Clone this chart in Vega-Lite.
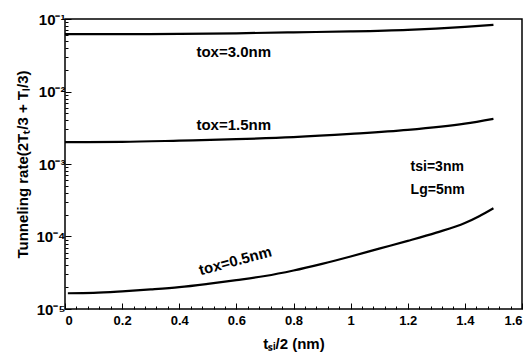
{
  "$schema": "https://vega.github.io/schema/vega-lite/v6.json",
  "width": 457,
  "height": 290,
  "autosize": {"type": "none"},
  "padding": {"left": 65, "top": 19, "right": 7, "bottom": 54},
  "background": "white",
  "config": {
    "view": {"stroke": "black", "strokeWidth": 1.5},
    "font": "Liberation Sans"
  },
  "datasets": {
    "curves": [
      {"tsi": 0, "rate": 0.062, "series": "tox=3.0nm"},
      {"tsi": 0.2, "rate": 0.062, "series": "tox=3.0nm"},
      {"tsi": 0.4, "rate": 0.0622, "series": "tox=3.0nm"},
      {"tsi": 0.6, "rate": 0.0635, "series": "tox=3.0nm"},
      {"tsi": 0.8, "rate": 0.0655, "series": "tox=3.0nm"},
      {"tsi": 1.0, "rate": 0.0675, "series": "tox=3.0nm"},
      {"tsi": 1.2, "rate": 0.071, "series": "tox=3.0nm"},
      {"tsi": 1.4, "rate": 0.078, "series": "tox=3.0nm"},
      {"tsi": 1.5, "rate": 0.083, "series": "tox=3.0nm"},
      {"tsi": 0, "rate": 0.002, "series": "tox=1.5nm"},
      {"tsi": 0.2, "rate": 0.00202, "series": "tox=1.5nm"},
      {"tsi": 0.4, "rate": 0.0021, "series": "tox=1.5nm"},
      {"tsi": 0.6, "rate": 0.0022, "series": "tox=1.5nm"},
      {"tsi": 0.8, "rate": 0.00235, "series": "tox=1.5nm"},
      {"tsi": 1.0, "rate": 0.0026, "series": "tox=1.5nm"},
      {"tsi": 1.2, "rate": 0.00295, "series": "tox=1.5nm"},
      {"tsi": 1.4, "rate": 0.0036, "series": "tox=1.5nm"},
      {"tsi": 1.5, "rate": 0.0042, "series": "tox=1.5nm"},
      {"tsi": 0.01, "rate": 0.0000165, "series": "tox=0.5nm"},
      {"tsi": 0.1, "rate": 0.0000167, "series": "tox=0.5nm"},
      {"tsi": 0.2, "rate": 0.0000175, "series": "tox=0.5nm"},
      {"tsi": 0.3, "rate": 0.0000186, "series": "tox=0.5nm"},
      {"tsi": 0.4, "rate": 0.00002, "series": "tox=0.5nm"},
      {"tsi": 0.5, "rate": 0.0000222, "series": "tox=0.5nm"},
      {"tsi": 0.6, "rate": 0.000025, "series": "tox=0.5nm"},
      {"tsi": 0.7, "rate": 0.0000285, "series": "tox=0.5nm"},
      {"tsi": 0.8, "rate": 0.000034, "series": "tox=0.5nm"},
      {"tsi": 0.9, "rate": 0.000042, "series": "tox=0.5nm"},
      {"tsi": 1.0, "rate": 0.000053, "series": "tox=0.5nm"},
      {"tsi": 1.1, "rate": 0.000068, "series": "tox=0.5nm"},
      {"tsi": 1.2, "rate": 0.000087, "series": "tox=0.5nm"},
      {"tsi": 1.3, "rate": 0.000113, "series": "tox=0.5nm"},
      {"tsi": 1.4, "rate": 0.000153, "series": "tox=0.5nm"},
      {"tsi": 1.45, "rate": 0.00019, "series": "tox=0.5nm"},
      {"tsi": 1.5, "rate": 0.000245, "series": "tox=0.5nm"}
    ],
    "toxlabels": [
      {"tsi": 0.46, "rate": 0.035, "text": "tox=3.0nm", "angle": 0},
      {"tsi": 0.46, "rate": 0.0035, "text": "tox=1.5nm", "angle": 0},
      {"tsi": 0.47, "rate": 0.000034, "text": "tox=0.5nm", "angle": -15}
    ],
    "paramlabels": [
      {"tsi": 1.21, "rate": 0.00091, "text": "tsi=3nm"},
      {"tsi": 1.21, "rate": 0.00044, "text": "Lg=5nm"}
    ]
  },
  "resolve": {"scale": {"x": "shared", "y": "shared"}, "axis": {"x": "independent", "y": "independent"}},
  "layer": [
    {
      "data": {"name": "curves"},
      "mark": {"type": "line", "color": "black", "strokeWidth": 2.2, "interpolate": "monotone"},
      "encoding": {
        "x": {
          "field": "tsi", "type": "quantitative",
          "scale": {"domain": [0, 1.6], "nice": false, "zero": false},
          "axis": {
            "orient": "bottom",
            "title": "tₛᵢ/2 (nm)",
            "values": [0, 0.2, 0.4, 0.6, 0.8, 1, 1.2, 1.4, 1.6],
            "labelExpr": "datum.value == 1 ? '1' : datum.value == 0 ? '0' : format(datum.value, '.1f')",
            "grid": false, "domain": false,
            "tickSize": -6, "tickColor": "black", "tickWidth": 1,
            "labelFont": "Liberation Sans", "labelFontWeight": "bold", "labelFontSize": 13, "labelColor": "black",
            "labelPadding": 11,
            "titleFont": "Liberation Sans", "titleFontWeight": "bold", "titleFontSize": 15, "titleColor": "black",
            "titlePadding": 9
          }
        },
        "y": {
          "field": "rate", "type": "quantitative",
          "scale": {"type": "log", "domain": [0.00001, 0.1], "nice": false},
          "axis": {
            "orient": "left",
            "title": "Tunneling rate(2Tₜ/3 + Tₗ/3)",
            "values": [0.00001, 0.0001, 0.001, 0.01, 0.1],
            "labelExpr": "datum.value >= 0.09 ? '10⁻¹' : datum.value >= 0.009 ? '10⁻²' : datum.value >= 0.0009 ? '10⁻³' : datum.value >= 0.00009 ? '10⁻⁴' : '10⁻⁵'",
            "grid": false, "domain": false,
            "tickSize": -6, "tickColor": "black", "tickWidth": 1,
            "labelFont": "Liberation Sans", "labelFontWeight": "bold", "labelFontSize": 15, "labelColor": "black",
            "labelPadding": 6,
            "titleFont": "Liberation Sans", "titleFontWeight": "bold", "titleFontSize": 15, "titleColor": "black",
            "titlePadding": 5
          }
        },
        "detail": {"field": "series", "type": "nominal"}
      }
    },
    {
      "data": {"name": "toxlabels"},
      "mark": {"type": "text", "align": "left", "baseline": "middle", "font": "Liberation Sans", "fontWeight": "bold", "fontSize": 15, "color": "black"},
      "encoding": {
        "x": {
          "field": "tsi", "type": "quantitative",
          "axis": {
            "orient": "bottom", "title": null, "labels": false, "grid": false, "domain": false,
            "values": [0.04, 0.08, 0.12, 0.16, 0.24, 0.28, 0.32, 0.36, 0.44, 0.48, 0.52, 0.56, 0.64, 0.68, 0.72, 0.76, 0.84, 0.88, 0.92, 0.96, 1.04, 1.08, 1.12, 1.16, 1.24, 1.28, 1.32, 1.36, 1.44, 1.48, 1.52, 1.56],
            "tickSize": -3, "tickColor": "black", "tickWidth": 1
          }
        },
        "y": {
          "field": "rate", "type": "quantitative",
          "axis": {
            "orient": "left", "title": null, "labels": false, "grid": false, "domain": false,
            "values": [0.00002, 0.00003, 0.00004, 0.00005, 0.00006, 0.00007, 0.00008, 0.00009, 0.0002, 0.0003, 0.0004, 0.0005, 0.0006, 0.0007, 0.0008, 0.0009, 0.002, 0.003, 0.004, 0.005, 0.006, 0.007, 0.008, 0.009, 0.02, 0.03, 0.04, 0.05, 0.06, 0.07, 0.08, 0.09],
            "tickSize": -3, "tickColor": "black", "tickWidth": 1
          }
        },
        "text": {"field": "text", "type": "nominal"},
        "angle": {"field": "angle", "type": "quantitative", "scale": null}
      }
    },
    {
      "data": {"name": "paramlabels"},
      "mark": {"type": "text", "align": "left", "baseline": "middle", "font": "Liberation Sans", "fontWeight": "bold", "fontSize": 14, "color": "black"},
      "encoding": {
        "x": {"field": "tsi", "type": "quantitative", "axis": null},
        "y": {"field": "rate", "type": "quantitative", "axis": null},
        "text": {"field": "text", "type": "nominal"}
      }
    }
  ]
}
